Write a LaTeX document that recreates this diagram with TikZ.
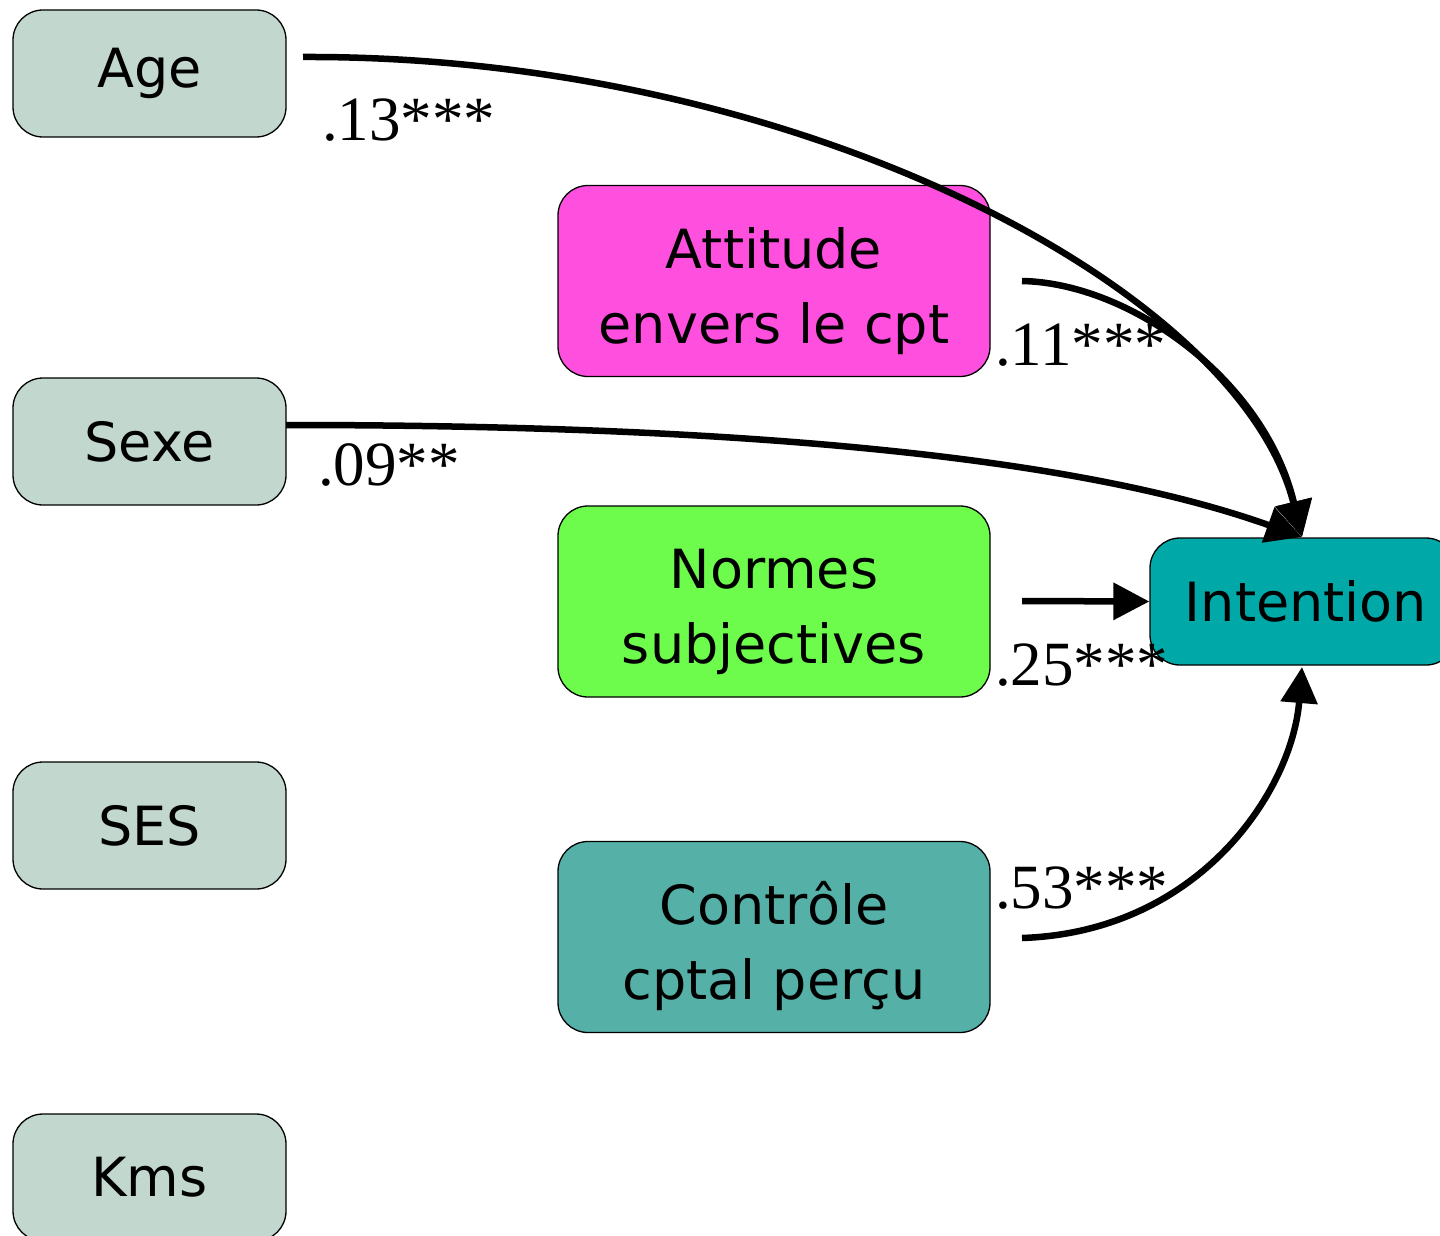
\documentclass[tikz,border=0pt]{standalone}
\usepackage{fontspec}
\setmainfont{Liberation Serif}
\newfontfamily\boxfont{DejaVu Sans}
\usetikzlibrary{arrows.meta}
\definecolor{covar}{HTML}{C2D7CE}
\definecolor{attcol}{HTML}{FF4FDF}
\definecolor{normcol}{HTML}{6DFC4B}
\definecolor{ctrlcol}{HTML}{55B1A8}
\definecolor{intcol}{HTML}{00A8A8}
\tikzset{
  varbox/.style={draw=black, line width=1.3pt, rounded corners=30pt, inner sep=0pt},
  covbox/.style={varbox, fill=covar, minimum width=273pt, minimum height=127pt},
  tpbbox/.style={varbox, minimum width=432pt, minimum height=191pt},
  boxtext/.style={inner sep=0pt, align=center, font=\boxfont\fontsize{54}{75}\selectfont},
  path/.style={line width=6.5pt, -{Triangle[length=36pt,width=36pt]}},
  coef/.style={inner sep=0pt, anchor=base west, font=\fontsize{63}{63}\selectfont}
}
\begin{document}
\begin{tikzpicture}[x=1pt,y=-1pt]
\useasboundingbox (0,0) rectangle (1440,1236);
\clip (0,0) rectangle (1440,1236);
% covariates
\node[covbox] (age)  at (149.5,73.5)  {};
\node[covbox] (sexe) at (149.5,441.5) {};
\node[covbox] (ses)  at (149.5,825.5) {};
\node[covbox] (kms)  at (149.5,1177.5) {};
\node[boxtext] (agetxt)  at (age.center)  {Age};
\node[boxtext] (sexetxt) at (sexe.center) {Sexe};
\node[boxtext] (sestxt)  at (ses.center)  {SES};
\node[boxtext] (kmstxt)  at (kms.center)  {Kms};
% theory of planned behaviour predictors
\node[tpbbox, fill=attcol]  (att)  at (774,281)   {};
\node[tpbbox, fill=normcol] (norm) at (774,601.5) {};
\node[tpbbox, fill=ctrlcol] (ctrl) at (774,937)   {};
\node[boxtext] (atttxt)  at (774,291)   {Attitude\\envers le cpt};
\node[boxtext] (normtxt) at (774,611.5) {Normes\\subjectives};
\node[boxtext] (ctrltxt) at (774,946)   {Contrôle\\cptal perçu};
% outcome
\node[varbox, fill=intcol, minimum width=306pt, minimum height=127pt] (int) at (1303,601.5) {};
\node[boxtext] (inttxt) at (1306,601.5) {Intention};
% path starts
\coordinate (ageout)  at (303,57);
\coordinate (sexeout) at (286,425);
\coordinate (attout)  at (1022,281);
\coordinate (normout) at (1022,601);
\coordinate (ctrlout) at (1022,938);
\coordinate (inttop)  at (1302,537);
\coordinate (intbot)  at (1302,667);
% paths
\draw[path] (ageout) .. controls (800,55) and (1240,290) .. (inttop);
\draw[path] (attout) .. controls (1130,283) and (1265,380) .. (inttop);
\draw[path] (sexeout) .. controls (800,425) and (1100,465) .. (inttop);
\draw[path] (normout) -- (int.west);
\draw[path] (ctrlout) .. controls (1200,932) and (1292,790) .. (intbot);
% coefficients
\node[coef] (c1) at (322,140) {.13***};
\node[coef] (c2) at (995,365) {.11***};
\node[coef] (c3) at (318,485) {.09**};
\node[coef] (c4) at (995,685) {.25***};
\node[coef] (c5) at (995,908) {.53***};
\end{tikzpicture}
\end{document}
